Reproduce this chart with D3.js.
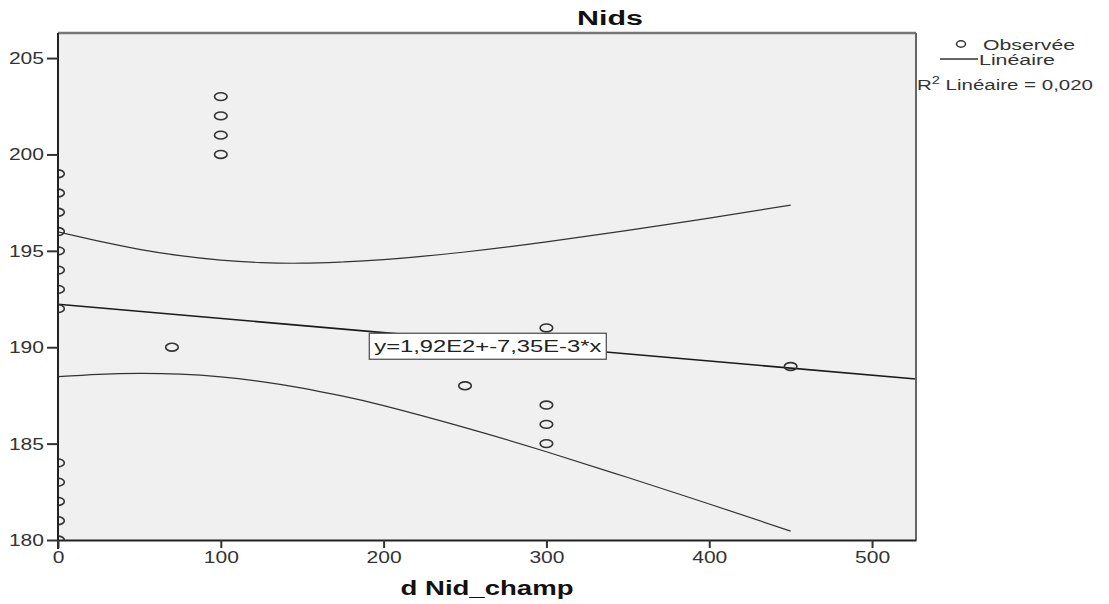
<!DOCTYPE html>
<html><head><meta charset="utf-8">
<script src="https://cdn.jsdelivr.net/npm/d3@7"></script>
<style>
html,body{margin:0;padding:0;background:#fff;}
svg{display:block;font-family:"Liberation Sans",Arial,sans-serif;}
</style></head>
<body>
<svg id="c" width="1109" height="604"></svg>
<script>
// ---- data ----
const obsX = [0,0,0,0,0,0,0,0,0,0,0,0,0, 100,100,100,100, 70, 250, 300,300,300,300, 450];
const obsY = [199,198,197,196,195,194,193,192,184,183,182,181,180, 203,202,201,200, 190, 188, 191,187,186,185, 189];
const fitX = [0, 527];
const fitY = [192.226, 188.351];
const ciX     = [0, 25, 50, 75, 100, 125, 150, 175, 200, 250, 300, 350, 400, 450];
const ciUpper = [195.98,195.50,195.08,194.75,194.52,194.39,194.36,194.42,194.54,194.94,195.46,196.06,196.70,197.37];
const ciLower = [188.47,188.59,188.64,188.60,188.46,188.22,187.88,187.46,186.97,185.83,184.58,183.24,181.87,180.46];
const xTicks = [0,100,200,300,400,500];
const yTicks = [180,185,190,195,200,205];
const titleText = "Nids";
const xLabel = "d Nid_champ";
const eqText = "y=1,92E2+-7,35E-3*x";
const eqPos = [264, 190.05];
const legendItems = ["Observée", "Linéaire"];
const r2Text = ["R", "2", " Linéaire = 0,020"];

// ---- layout ----
const svg = d3.select("#c");
const L = 58, R = 916, T = 33, B = 540;
const x = d3.scaleLinear().domain([0, 527]).range([L, R]);
const y = d3.scaleLinear().domain([180, 206.3]).range([B, T]);

svg.append("defs").append("clipPath").attr("id","pc")
  .append("rect").attr("x",L).attr("y",T).attr("width",R-L).attr("height",B-T);

svg.append("rect").attr("x",L).attr("y",T).attr("width",R-L).attr("height",B-T)
  .attr("fill","#f0f0f0");

const g = svg.append("g").attr("clip-path","url(#pc)");

// CI curves
const curve = d3.line().x((d,i)=>x(ciX[i])).y(d=>y(d)).curve(d3.curveNatural);
g.append("path").attr("d",curve(ciUpper)).attr("fill","none").attr("stroke","#333").attr("stroke-width",1.2);
g.append("path").attr("d",curve(ciLower)).attr("fill","none").attr("stroke","#333").attr("stroke-width",1.2);
// fit line
g.append("path").attr("d",d3.line().x((d,i)=>x(fitX[i])).y(d=>y(d))(fitY))
  .attr("fill","none").attr("stroke","#1a1a1a").attr("stroke-width",1.6);

// points
g.selectAll("ellipse.pt").data(obsX).join("ellipse").attr("class","pt")
  .attr("cx",d=>x(d)).attr("cy",(d,i)=>y(obsY[i]))
  .attr("rx",6.3).attr("ry",3.9)
  .attr("fill","none").attr("stroke","#333").attr("stroke-width",1.6);

// frame
svg.append("line").attr("x1",L).attr("x2",R).attr("y1",T).attr("y2",T).attr("stroke","#777").attr("stroke-width",2.5);
svg.append("line").attr("x1",R).attr("x2",R).attr("y1",T).attr("y2",B).attr("stroke","#666").attr("stroke-width",2);

// axes
const yAx = svg.append("g").attr("transform",`translate(${L},0)`)
  .call(d3.axisLeft(y).tickValues(yTicks).tickSize(11).tickSizeOuter(0).tickFormat(d3.format("d")));
const xAx = svg.append("g").attr("transform",`translate(0,${B})`)
  .call(d3.axisBottom(x).tickValues(xTicks).tickSize(8).tickSizeOuter(0).tickFormat(d3.format("d")));
[yAx,xAx].forEach(a=>{
  a.select(".domain").attr("stroke","#222").attr("stroke-width",2);
  a.selectAll(".tick line").attr("stroke","#333").attr("stroke-width",2);
  a.selectAll(".tick text").attr("fill","#333").attr("font-size",16)
   .attr("font-family","'Liberation Sans',Arial,sans-serif")
   .attr("textLength",d=>String(d).length*11.7).attr("lengthAdjust","spacingAndGlyphs");
});
svg.select(".domain"); // no-op
yAx.select(".domain").attr("d",`M0,${T}V${B+9}`);
yAx.selectAll(".tick text").attr("x",-14).attr("dy","0.34em");
xAx.selectAll(".tick text").attr("y",12).attr("dy","0.71em");

// title
svg.append("text").attr("x",610).attr("y",25).attr("text-anchor","middle")
  .attr("font-size",20).attr("font-weight","bold").attr("fill","#111")
  .attr("textLength",66).attr("lengthAdjust","spacingAndGlyphs").text(titleText);
// x label
svg.append("text").attr("x",(L+R)/2).attr("y",595).attr("text-anchor","middle")
  .attr("font-size",20).attr("font-weight","bold").attr("fill","#111")
  .attr("textLength",173).attr("lengthAdjust","spacingAndGlyphs").text(xLabel);

// equation label
const ex = x(eqPos[0]), ey = y(eqPos[1]);
svg.append("rect").attr("x",ex-118.5).attr("y",ey-13).attr("width",237).attr("height",26)
  .attr("fill","#fff").attr("stroke","#555").attr("stroke-width",1.3);
svg.append("text").attr("x",ex).attr("y",ey+6).attr("text-anchor","middle")
  .attr("font-size",16).attr("fill","#222")
  .attr("textLength",227).attr("lengthAdjust","spacingAndGlyphs").text(eqText);

// legend
svg.append("ellipse").attr("cx",961).attr("cy",44).attr("rx",4.5).attr("ry",3.2)
  .attr("fill","none").attr("stroke","#333").attr("stroke-width",1.5);
svg.append("text").attr("x",983).attr("y",50).attr("font-size",14).attr("fill","#333")
  .attr("textLength",92).attr("lengthAdjust","spacingAndGlyphs").text(legendItems[0]);
svg.append("line").attr("x1",940).attr("x2",978).attr("y1",59).attr("y2",59)
  .attr("stroke","#333").attr("stroke-width",1.5);
svg.append("text").attr("x",979).attr("y",65).attr("font-size",14).attr("fill","#333")
  .attr("textLength",76).attr("lengthAdjust","spacingAndGlyphs").text(legendItems[1]);
const r2 = svg.append("text").attr("x",917).attr("y",90).attr("font-size",14).attr("fill","#333");
r2.append("tspan").text(r2Text[0]);
r2.append("tspan").attr("dy",-6).attr("font-size",10).text(r2Text[1]);
r2.append("tspan").attr("dy",6).text(r2Text[2]);
r2.attr("textLength",176).attr("lengthAdjust","spacingAndGlyphs");
</script>
</body></html>
